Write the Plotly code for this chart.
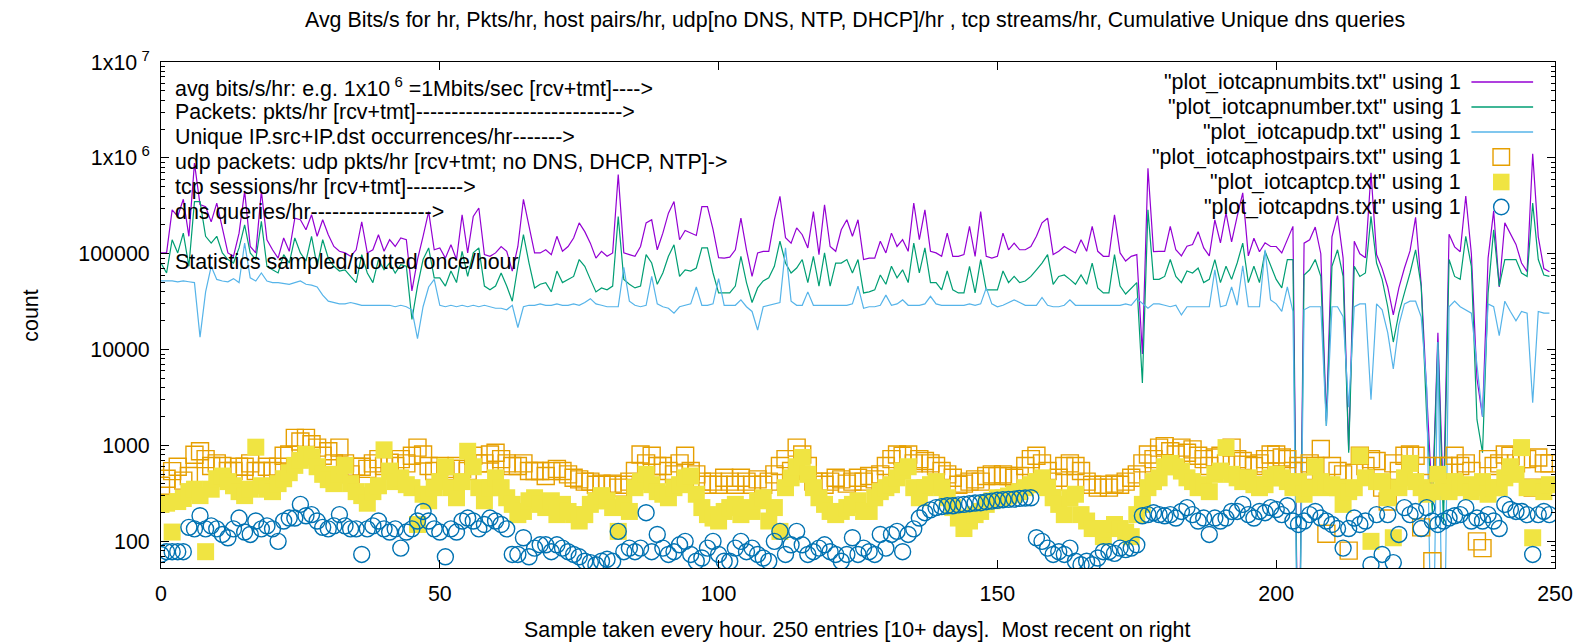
import plotly.graph_objects as go

# ---------------- data ----------------
samples = list(range(250))

numbits = [
    102000, 102000, 287000, 245000, 370000, 152000, 881000, 325000, 310000, 215000,
    337000, 178000, 102000, 94000, 164000, 450000, 119000, 102000, 450000, 140000,
    110000, 90000, 146000, 106000, 235000, 226000, 178000, 255000, 152000, 226000,
    158000, 119000, 106000, 102000, 94000, 110000, 215000, 102000, 110000, 158000,
    106000, 140000, 119000, 146000, 140000, 41000, 87000, 152000, 275000, 110000,
    115000, 90000, 124000, 87000, 255000, 102000, 245000, 300000, 98000, 94000,
    102000, 119000, 106000, 66000, 119000, 370000, 193000, 102000, 102000, 110000,
    98000, 152000, 106000, 119000, 146000, 210000, 170000, 129000, 90000, 106000,
    94000, 102000, 670000, 102000, 98000, 94000, 119000, 210000, 226000, 110000,
    164000, 265000, 350000, 140000, 175000, 165000, 155000, 310000, 310000, 180000,
    91000, 90000, 92000, 110000, 235000, 110000, 58000, 102000, 106000, 106000,
    226000, 396000, 147000, 129000, 186000, 158000, 115000, 275000, 98000, 324000,
    119000, 106000, 178000, 226000, 152000, 226000, 87000, 90000, 90000, 135000,
    102000, 164000, 119000, 140000, 106000, 337000, 140000, 287000, 106000, 102000,
    94000, 164000, 94000, 94000, 98000, 193000, 94000, 275000, 94000, 90000,
    94000, 164000, 110000, 129000, 110000, 110000, 119000, 152000, 210000, 235000,
    98000, 106000, 119000, 110000, 102000, 140000, 106000, 193000, 106000, 94000,
    94000, 255000, 102000, 84000, 94000, 98000, 9000, 780000, 105000, 106000,
    106000, 193000, 110000, 95000, 120000, 125000, 170000, 115000, 95000, 226000,
    130000, 267000, 133000, 245000, 431000, 95000, 145000, 105000, 130000, 119000,
    119000, 102000, 140000, 193000, 1, 129000, 140000, 190000, 100000, 1800,
    150000, 250000, 90000, 900, 135000, 100000, 91000, 700000, 98000, 70000,
    45000, 23000, 44000, 71000, 107000, 240000, 48000, 3000, 250, 15000,
    250, 160000, 118000, 105000, 400000, 100000, 5000, 2000, 90000, 280000,
    45000, 210000, 160000, 125000, 80000, 65000, 1100000, 150000, 70000, 65000,
]

number = [
    80000, 63000, 140000, 102000, 164000, 74000, 350000, 350000, 152000, 129000,
    152000, 102000, 87000, 80000, 115000, 200000, 102000, 87000, 218000, 74000,
    68000, 63000, 98000, 80000, 146000, 102000, 84000, 152000, 74000, 140000,
    90000, 74000, 66000, 68000, 58000, 50000, 98000, 63000, 50000, 87000,
    68000, 80000, 63000, 77000, 74000, 20600, 46000, 87000, 115000, 56000,
    56000, 46000, 66000, 50000, 106000, 58000, 102000, 115000, 46000, 42000,
    46000, 63000, 46000, 32000, 74000, 158000, 80000, 44000, 48000, 50000,
    40000, 66000, 50000, 54000, 58000, 87000, 74000, 54000, 40000, 44000,
    42000, 46000, 245000, 54000, 48000, 44000, 46000, 98000, 80000, 48000,
    63000, 94000, 124000, 58000, 68000, 66000, 71000, 115000, 115000, 63000,
    39000, 39000, 39000, 46000, 94000, 50000, 31000, 44000, 52000, 56000,
    74000, 135000, 80000, 63000, 71000, 87000, 50000, 94000, 46000, 102000,
    46000, 80000, 80000, 87000, 63000, 87000, 39000, 40000, 42000, 60000,
    48000, 74000, 56000, 68000, 50000, 129000, 63000, 115000, 50000, 50000,
    42000, 66000, 42000, 39000, 39000, 74000, 39000, 87000, 42000, 42000,
    42000, 66000, 50000, 58000, 50000, 52000, 58000, 68000, 80000, 98000,
    48000, 58000, 60000, 54000, 48000, 60000, 48000, 80000, 44000, 39000,
    39000, 98000, 46000, 38000, 44000, 50000, 4500, 287000, 54000, 54000,
    58000, 87000, 58000, 50000, 66000, 63000, 71000, 50000, 54000, 87000,
    50000, 74000, 54000, 80000, 129000, 50000, 74000, 50000, 106000, 74000,
    54000, 44000, 87000, 87000, 1, 60000, 68000, 87000, 58000, 1600,
    74000, 110000, 58000, 840, 74000, 58000, 63000, 245000, 80000, 54000,
    28000, 12000, 24000, 39000, 63000, 110000, 46000, 1900, 200, 12000,
    150, 87000, 58000, 54000, 152000, 74000, 1870, 840, 39000, 178000,
    46000, 87000, 87000, 87000, 63000, 58000, 337000, 87000, 60000, 58000,
]

udp = [
    52000, 52000, 52000, 51000, 52000, 51000, 50000, 13500, 40000, 74000,
    54000, 52000, 51000, 55000, 50000, 129000, 56000, 52000, 63000, 52000,
    50000, 50000, 49000, 48000, 50000, 52000, 48000, 47000, 45000, 37000,
    32000, 31000, 30000, 30000, 31000, 30000, 29000, 29000, 29000, 29000,
    29000, 29000, 28000, 29000, 28000, 26000, 13000, 28000, 45000, 54000,
    29000, 28000, 29000, 28000, 29000, 28000, 29000, 28000, 29000, 28000,
    27000, 27000, 26000, 29000, 17000, 28000, 29000, 29000, 30000, 29000,
    29000, 30000, 29000, 29000, 30000, 29000, 31000, 34000, 30000, 29000,
    28000, 28000, 28000, 72000, 32000, 29000, 28000, 29000, 58000, 30000,
    28000, 27000, 24000, 28000, 29000, 30000, 45000, 29000, 29000, 30000,
    55000, 29000, 29000, 29000, 33000, 28000, 25000, 16000, 28000, 29000,
    30000, 31000, 115000, 32000, 29000, 29000, 40000, 29000, 29000, 29000,
    29000, 29000, 29000, 29000, 30000, 46000, 27000, 28000, 28000, 29000,
    37000, 29000, 30000, 33000, 29000, 29000, 29000, 30000, 36000, 30000,
    29000, 29000, 29000, 29000, 29000, 30000, 29000, 30000, 44000, 30000,
    28000, 29000, 31000, 33000, 31000, 29000, 29000, 29000, 35000, 29000,
    28000, 28000, 29000, 33000, 29000, 29000, 29000, 29000, 29000, 29000,
    29000, 29000, 29000, 30000, 29000, 34000, 30000, 27000, 30000, 30000,
    29000, 28000, 29000, 23000, 28000, 28000, 28000, 28000, 28000, 68000,
    28000, 29000, 45000, 29000, 75000, 28000, 28000, 28000, 110000, 33000,
    30000, 25000, 45000, 25000, 1, 26000, 28000, 28000, 28000, 1600,
    28000, 28000, 22000, 2500, 28000, 30000, 30000, 3000, 30000, 26000,
    15000, 6300, 18000, 30000, 32000, 32000, 22000, 4000, 1, 12000,
    1, 28000, 32000, 28000, 26000, 24000, 7000, 2000, 30000, 28000,
    14000, 32000, 25000, 20000, 25000, 24000, 2800, 25000, 24000, 24000,
]

hostpairs = [
    380, 450, 540, 600, 430, 480, 800, 870, 720, 610,
    650, 610, 541, 541, 600, 600, 650, 541, 541, 600,
    541, 600, 780, 806, 1200, 1100, 1200, 1030, 950, 780,
    870, 650, 950, 650, 500, 600, 600, 570, 650, 720,
    610, 660, 610, 720, 650, 780, 950, 806, 610, 541,
    610, 541, 570, 610, 570, 541, 780, 650, 650, 806,
    840, 720, 650, 610, 610, 650, 541, 541, 541, 480,
    541, 570, 541, 500, 460, 443, 420, 420, 390, 400,
    390, 400, 363, 390, 420, 541, 806, 650, 780, 610,
    610, 541, 500, 650, 780, 541, 500, 420, 390, 420,
    390, 460, 420, 390, 460, 420, 390, 443, 390, 420,
    500, 610, 720, 541, 950, 806, 610, 420, 420, 390,
    420, 460, 443, 400, 420, 460, 420, 480, 443, 500,
    610, 720, 806, 780, 806, 650, 720, 690, 650, 610,
    541, 500, 460, 390, 400, 420, 443, 420, 480, 500,
    480, 500, 480, 460, 480, 610, 720, 780, 650, 541,
    420, 460, 610, 650, 610, 541, 420, 390, 363, 390,
    363, 400, 390, 420, 460, 500, 650, 806, 720, 950,
    985, 870, 806, 950, 840, 910, 780, 720, 610, 750,
    780, 650, 950, 720, 690, 630, 610, 650, 720, 806,
    806, 750, 720, 541, 610, 541, 650, 610, 920, 120,
    610, 541, 500, 80, 520, 780, 610, 720, 690, 363,
    260, 650, 541, 780, 806, 780, 140, 610, 62, 390,
    610, 610, 780, 610, 650, 541, 100, 85, 720, 610,
    650, 806, 780, 650, 720, 720, 363, 750, 650, 650,
]

tcp = [
    243, 250, 125, 260, 280, 330, 350, 300, 78, 350,
    450, 480, 420, 380, 330, 300, 350, 960, 380, 350,
    330, 400, 450, 520, 620, 700, 806, 760, 600, 500,
    440, 400, 500, 620, 400, 330, 300, 250, 330, 380,
    900, 541, 420, 460, 390, 363, 150, 310, 265, 363,
    420, 600, 363, 285, 420, 870, 600, 363, 265, 363,
    460, 363, 285, 243, 190, 205, 265, 285, 243, 225,
    265, 190, 243, 205, 190, 163, 190, 243, 265, 300,
    265, 225, 127, 243, 205, 363, 420, 500, 390, 330,
    310, 285, 363, 390, 460, 480, 310, 225, 190, 175,
    163, 205, 225, 243, 190, 225, 205, 265, 285, 163,
    225, 127, 363, 460, 600, 750, 500, 363, 285, 243,
    205, 190, 205, 225, 243, 265, 205, 205, 285, 330,
    363, 390, 460, 541, 600, 363, 285, 363, 390, 420,
    363, 285, 225, 175, 136, 163, 190, 205, 243, 265,
    285, 285, 297, 310, 330, 363, 390, 420, 460, 363,
    285, 243, 190, 285, 310, 190, 163, 136, 136, 112,
    136, 150, 136, 125, 112, 190, 243, 363, 420, 460,
    600, 650, 600, 541, 460, 420, 363, 390, 330, 500,
    541, 950, 500, 460, 420, 460, 390, 363, 390, 460,
    500, 460, 420, 363, 420, 310, 363, 600, 420, 363,
    390, 363, 243, 330, 363, 780, 460, 100, 420, 420,
    285, 109, 363, 460, 650, 420, 363, 310, 330, 500,
    363, 330, 420, 363, 390, 330, 363, 420, 310, 363,
    363, 460, 600, 500, 950, 363, 109, 363, 330, 390,
]

dns = [
    73, 78, 78, 78, 78, 140, 135, 185, 135, 145,
    135, 118, 109, 135, 175, 125, 118, 163, 135, 145,
    135, 100, 163, 175, 175, 243, 185, 190, 163, 140,
    135, 145, 190, 145, 135, 135, 73, 135, 145, 163,
    135, 125, 135, 85, 125, 135, 163, 205, 163, 135,
    125, 69, 135, 125, 163, 175, 163, 135, 150, 175,
    163, 150, 135, 73, 73, 109, 69, 85, 92, 92,
    78, 92, 85, 78, 73, 69, 62, 60, 57, 62,
    65, 62, 127, 78, 85, 78, 85, 199, 78, 118,
    85, 73, 78, 92, 100, 73, 62, 67, 85, 100,
    73, 62, 62, 85, 100, 78, 85, 73, 67, 62,
    100, 127, 73, 92, 127, 92, 73, 78, 85, 92,
    78, 73, 62, 73, 109, 73, 85, 78, 73, 118,
    85, 118, 127, 78, 118, 135, 175, 199, 213, 225,
    230, 235, 235, 240, 243, 247, 251, 253, 259, 263,
    268, 272, 274, 276, 281, 283, 285, 109, 100, 85,
    73, 78, 73, 85, 62, 57, 62, 57, 67, 78,
    78, 75, 85, 82, 85, 92, 185, 190, 199, 190,
    185, 190, 175, 205, 225, 190, 163, 175, 118, 175,
    163, 175, 205, 205, 243, 190, 175, 205, 199, 225,
    215, 190, 235, 163, 150, 163, 190, 205, 175, 163,
    150, 136, 85, 136, 175, 150, 163, 57, 190, 73,
    190, 60, 118, 225, 190, 205, 136, 225, 163, 150,
    163, 175, 185, 190, 225, 163, 175, 163, 190, 163,
    136, 243, 215, 205, 205, 190, 73, 190, 205, 190,
]

y_tickvals = [100, 1000, 10000, 100000, 1000000, 10000000]
y_ticktext = ["100", "1000", "10000", "100000", "1x10<sup> 6</sup>", "1x10<sup> 7</sup>"]
x_tickvals = [0, 50, 100, 150, 200, 250]

legend_names = [
    '"plot_iotcapnumbits.txt" using 1',
    '"plot_iotcapnumber.txt" using 1',
    '"plot_iotcapudp.txt" using 1',
    '"plot_iotcaphostpairs.txt" using 1',
    '"plot_iotcaptcp.txt" using 1',
    '"plot_iotcapdns.txt" using 1',
]

info_lines = [
    "avg bits/s/hr: e.g. 1x10<sup> 6</sup> =1Mbits/sec [rcv+tmt]---->",
    "Packets: pkts/hr [rcv+tmt]----------------------------->",
    "Unique IP.src+IP.dst occurrences/hr------->",
    "udp packets: udp pkts/hr [rcv+tmt; no DNS, DHCP, NTP]->",
    "tcp sessions/hr [rcv+tmt]-------->",
    "dns queries/hr----------------->",
    "",
    "Statistics sampled/plotted once/hour",
]

title_text = ("Avg Bits/s for hr, Pkts/hr, host pairs/hr, udp[no DNS, NTP, DHCP]/hr , "
              "tcp streams/hr, Cumulative Unique dns queries")
xlabel_text = "Sample taken every hour. 250 entries [10+ days].  Most recent on right"

# ---------------- styling ----------------
W, H = 1585, 644
L, R, T, B = 161, 1562, 62, 568  # plot area in pixels
PW, PH = R - L, B - T

def px(xp):
    return (xp - L) / PW

def py(yp):
    return (B - yp) / PH

FONT = "Liberation Sans, Arial, sans-serif"
FS = 21.4
C_BITS, C_NUM, C_UDP = "#9400D3", "#009E73", "#56B4E9"
C_HOST, C_TCP, C_DNS = "#E69F00", "#F0E442", "#0072B2"

fig = go.Figure()
fig.add_trace(go.Scatter(x=samples, y=numbits, mode="lines",
                         line=dict(color=C_BITS, width=1.2), showlegend=False))
fig.add_trace(go.Scatter(x=samples, y=number, mode="lines",
                         line=dict(color=C_NUM, width=1.2), showlegend=False))
fig.add_trace(go.Scatter(x=samples, y=udp, mode="lines",
                         line=dict(color=C_UDP, width=1.2), showlegend=False))
fig.add_trace(go.Scatter(x=samples, y=hostpairs, mode="markers",
                         marker=dict(symbol="square-open", size=17, color=C_HOST,
                                     line=dict(width=1.4, color=C_HOST)),
                         showlegend=False, cliponaxis=True))
fig.add_trace(go.Scatter(x=samples, y=tcp, mode="markers",
                         marker=dict(symbol="square", size=17, color=C_TCP,
                                     line=dict(width=0)),
                         showlegend=False, cliponaxis=True))
fig.add_trace(go.Scatter(x=samples, y=dns, mode="markers",
                         marker=dict(symbol="circle-open", size=16, color=C_DNS,
                                     line=dict(width=1.4, color=C_DNS)),
                         showlegend=False, cliponaxis=True))

minor_vals = [m * 10 ** e for e in range(1, 7) for m in range(2, 10) if m * 10 ** e > 53]

annotations = []
shapes = []

# info text inside the plot
for k, t in enumerate(info_lines):
    if not t:
        continue
    annotations.append(dict(text=t, xref="paper", yref="paper", x=px(173), y=py(87 + 25 * k),
                            xanchor="left", yanchor="middle", showarrow=False,
                            font=dict(family=FONT, size=FS, color="#000")))

# custom gnuplot-style key (text right, sample at right)
rows = [82, 107, 132, 157, 182, 207]
for k, name in enumerate(legend_names):
    annotations.append(dict(text=name, xref="paper", yref="paper", x=px(1470), y=py(rows[k]),
                            xanchor="right", yanchor="middle", showarrow=False,
                            font=dict(family=FONT, size=FS, color="#000")))
for k, col in enumerate([C_BITS, C_NUM, C_UDP]):
    shapes.append(dict(type="line", xref="paper", yref="paper",
                       x0=px(1478), x1=px(1540), y0=py(rows[k]), y1=py(rows[k]),
                       line=dict(color=col, width=1.3)))
hs = 8.3
shapes.append(dict(type="rect", xref="paper", yref="paper",
                   x0=px(1508 - hs), x1=px(1508 + hs), y0=py(rows[3] - hs), y1=py(rows[3] + hs),
                   line=dict(color=C_HOST, width=1.4), fillcolor="rgba(0,0,0,0)"))
shapes.append(dict(type="rect", xref="paper", yref="paper",
                   x0=px(1508 - hs), x1=px(1508 + hs), y0=py(rows[4] - hs), y1=py(rows[4] + hs),
                   line=dict(color=C_TCP, width=0), fillcolor=C_TCP))
shapes.append(dict(type="circle", xref="paper", yref="paper",
                   x0=px(1508 - 7.7), x1=px(1508 + 7.7), y0=py(rows[5] - 7.7), y1=py(rows[5] + 7.7),
                   line=dict(color=C_DNS, width=1.4), fillcolor="rgba(0,0,0,0)"))

# title and axis labels
annotations.append(dict(text=title_text, xref="paper", yref="paper", x=px(858), y=py(20),
                        xanchor="center", yanchor="middle", showarrow=False,
                        font=dict(family=FONT, size=FS, color="#000")))
annotations.append(dict(text=xlabel_text, xref="paper", yref="paper", x=px(861), y=py(630),
                        xanchor="center", yanchor="middle", showarrow=False,
                        font=dict(family=FONT, size=FS, color="#000")))
annotations.append(dict(text="count", xref="paper", yref="paper", x=px(30), y=py(316),
                        xanchor="center", yanchor="middle", showarrow=False, textangle=-90,
                        font=dict(family=FONT, size=FS, color="#000")))

fig.update_layout(
    width=W, height=H,
    margin=dict(l=L, r=W - R, t=T, b=H - B, pad=0),
    paper_bgcolor="white", plot_bgcolor="white",
    font=dict(family=FONT, size=FS, color="#000"),
    showlegend=False,
    annotations=annotations, shapes=shapes,
    xaxis=dict(range=[0, 250], tickvals=x_tickvals, ticks="inside", ticklen=8,
               tickcolor="#000", tickwidth=1, showline=True, linecolor="#000", linewidth=1,
               mirror="ticks", showgrid=False, zeroline=False,
               tickfont=dict(family=FONT, size=FS, color="#000"), ticklabelstandoff=6),
    yaxis=dict(type="log", range=[1.722, 7], tickvals=y_tickvals, ticktext=y_ticktext,
               ticks="inside", ticklen=8, tickcolor="#000", tickwidth=1,
               showline=True, linecolor="#000", linewidth=1, mirror="ticks",
               showgrid=False, zeroline=False,
               minor=dict(tickvals=minor_vals, ticks="inside", ticklen=4, tickcolor="#000",
                          showgrid=False),
               tickfont=dict(family=FONT, size=FS, color="#000"), ticklabelstandoff=6),
)

fig.write_html("out.html", config={"displayModeBar": False},
               post_script="document.body.style.margin='0px';document.body.style.overflow='hidden';")
